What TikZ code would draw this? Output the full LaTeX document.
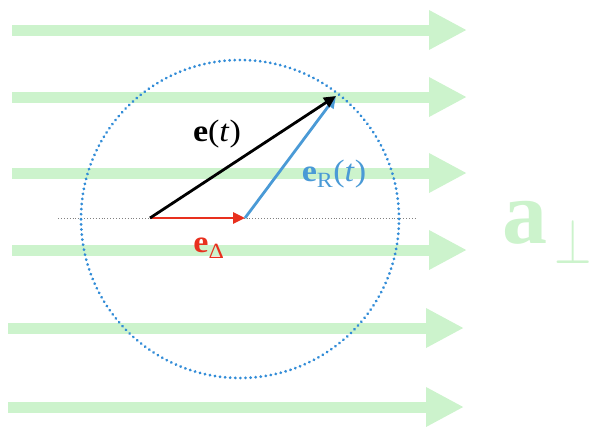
\documentclass[tikz,border=0pt]{standalone}
\usepackage{fontspec}
\setmainfont{Liberation Serif}
\usepackage{graphicx}
\usetikzlibrary{arrows.meta}
\definecolor{flow}{RGB}{204,243,204}
\definecolor{eblue}{RGB}{74,154,214}
\definecolor{ered}{RGB}{232,48,30}
\definecolor{cblue}{RGB}{50,140,215}
\tikzset{
  flowarrow/.style={flow, line width=11pt, -{Triangle[length=38pt,width=37pt]}},
  vec/.style={line width=2.8pt, -{Triangle[length=12pt,width=11pt]}},
  lbl/.style={inner sep=0pt, font=\fontsize{31}{31}\selectfont, xscale=1.1}
}
\begin{document}
\begin{tikzpicture}[x=1pt,y=-1pt]
\useasboundingbox (0,0) rectangle (591,426);
% flow arrows
\foreach \yy/\xs/\xe in {30/12/467, 97/12/467, 173/12/467, 250/12/467, 328/8/464, 407/8/464}{
  \coordinate (fs\yy) at (\xs,\yy);
  \coordinate (fe\yy) at (\xe,\yy);
  \draw[flowarrow] (fs\yy) -- (fe\yy);
}
\node[inner sep=0pt, text=flow, font=\fontsize{90}{90}\selectfont\bfseries, anchor=base] (a) at (525,243) {a};
\node[inner sep=0pt, text=flow, anchor=south] (perp) at (573,264) {\scalebox{4.8}[6.4]{$\perp$}};
% dotted baseline
\coordinate (L) at (58,218);
\coordinate (R) at (416,218);
\draw[gray, line width=0.9pt, dotted] (L) -- (R);
% circle
\node[draw=cblue, circle, minimum size=318pt, line width=3pt, dash pattern=on 0.1pt off 5pt, line cap=round, inner sep=0pt] (circ) at (240,219) {};
% vectors
\coordinate (O) at (150,218);
\coordinate (D) at (245,218);
\coordinate (T) at (336,96);
\draw[vec, ered] (O) -- (D);
\draw[vec, eblue] (D) -- (T);
\draw[vec, black] (O) -- (T);
% labels
\node[lbl] (et) at (217,134) {\textbf{e}(\textit{t})};
\node[lbl, text=eblue] (ert) at (334,174) {\textbf{e}\textsubscript{R}(\textit{t})};
\node[lbl, text=ered] (ed) at (209,248) {\textbf{e}\textsubscript{Δ}};
\end{tikzpicture}
\end{document}
